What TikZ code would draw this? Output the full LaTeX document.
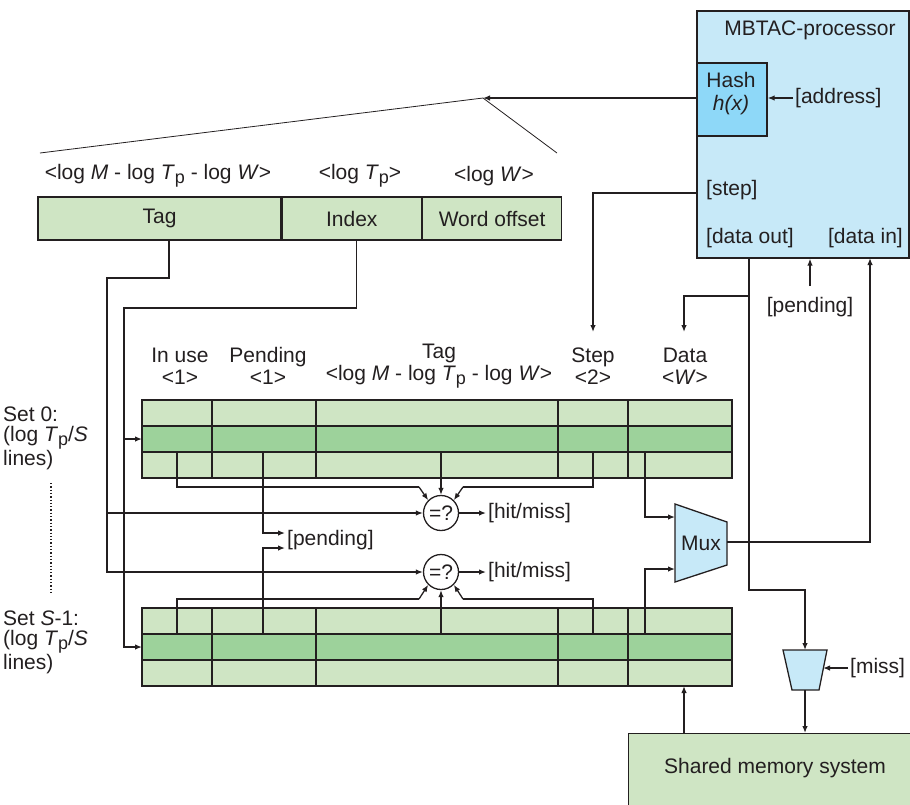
\documentclass[tikz,border=0pt]{standalone}
\usepackage{fontspec}
\setmainfont{Liberation Sans}
\usetikzlibrary{arrows.meta}
\definecolor{ink}{HTML}{231F20}
\definecolor{paleg}{HTML}{CFE5C4}
\definecolor{deepg}{HTML}{9DD29B}
\definecolor{procb}{HTML}{C7E9F8}
\definecolor{hashb}{HTML}{8ED8F8}
\newcommand{\Tp}{\textit{T}\raisebox{-0.35ex}{\fontsize{18}{18}\selectfont p}}
\tikzset{
  wire/.style={draw=ink, line width=1.3pt},
  arr/.style={wire, -{Latex[length=7pt,width=5.5pt]}},
  lab/.style={inner sep=2pt},
  field/.style={wire, fill=paleg, minimum height=43pt, inner sep=0pt},
  hdr/.style={align=center, font=\fontsize{21}{22}\selectfont},
  cmp/.style={circle, wire, fill=white, minimum size=35pt, inner sep=0pt},
}
\begin{document}
\begin{tikzpicture}[x=1pt, y=-1pt, font=\fontsize{21}{24}\selectfont, text=ink]
  \useasboundingbox (0,0) rectangle (910,804);
  % processor
  \node[wire, fill=procb, minimum width=212pt, minimum height=247pt, inner sep=0pt] (proc) at (803,134.5) {};
  \node (ptitle) at (810,30) {MBTAC-processor};
  \node[wire, fill=hashb, minimum width=70pt, minimum height=73pt, inner sep=0pt] (hash) at (732,99.5) {};
  \node[align=center, font=\fontsize{21}{23}\selectfont] (hashtxt) at (731,94) {Hash\\\textit{h(x)}};
  \node[lab, anchor=west] (addr) at (793,98) {[address]};
  \node[lab, anchor=west] (stp) at (704,190) {[step]};
  \node[lab, anchor=west] (dout) at (704,238) {[data out]};
  \node[lab, anchor=east] (din) at (905,238) {[data in]};
  \coordinate (stepout) at (697,193);
  \coordinate (doutp) at (749,258);
  \coordinate (dinp) at (870,258);
  \coordinate (fan) at (483,98);
  \coordinate (fl) at (40,153);
  \coordinate (fr) at (557,153);
  \draw[arr] (addr.west) -- (hash.east |- addr.west);
  \draw[arr] (hash.west |- fan) -- (fan);
  \draw[draw=ink, line width=0.8pt] (fl) -- (fan) -- (fr);
  % address fields
  \node[field, minimum width=243pt] (tag) at (159.5,218.5) {Tag};
  \node[field, minimum width=139pt, anchor=west] (index) at (tag.east) {Index};
  \node[field, minimum width=139pt, anchor=west] (offset) at (index.east) {Word offset};
  \node (tagw) at (158,176) {<log \textit{M} - log \Tp{} - log \textit{W}>};
  \node (indexw) at (360,176) {<log \Tp>};
  \node (offw) at (494,176) {<log \textit{W}>};
  % the two sets
  \foreach \top/\row/\nm in {400/452/u, 608/633/l} {
    \fill[paleg] (142,\top) rectangle (732,\top+78);
    \fill[deepg] (142,\top+26) rectangle (732,\top+52);
    \foreach \dy in {26,52} \draw[wire] (142,\top+\dy) -- (732,\top+\dy);
    \foreach \cx in {212,316,558,628} \draw[wire] (\cx,\top) -- (\cx,\top+78);
    \draw[wire] (142,\top) rectangle (732,\top+78);
    \foreach \cx/\cn in {177/use,263/pend,441/tag,593/step,645/data}
      \coordinate (\nm-\cn) at (\cx,\row);
  }
  \coordinate (row0) at (142,439);
  \coordinate (rowS) at (142,647);
  \node[hdr] (h-use) at (180,366) {In use\\<1>};
  \node[hdr] (h-pend) at (268,366) {Pending\\<1>};
  \node[hdr] (h-tag) at (439,366) {Tag\\<log \textit{M} - log \Tp{} - log \textit{W}>};
  \node[hdr] (h-step) at (593,366) {Step\\<2>};
  \node[hdr] (h-data) at (685,366) {Data\\<\textit{W}>};
  \node[lab, align=left, anchor=west, font=\fontsize{21}{20}\selectfont] (set0) at (1,438) {Set 0:\\(log \Tp/\textit{S}\\lines)};
  \node[lab, align=left, anchor=west, font=\fontsize{21}{20}\selectfont] (setS) at (1,642) {Set \textit{S}-1:\\(log \Tp/\textit{S}\\lines)};
  \draw[wire, dotted] (51,483) -- (51,594);
  % comparators
  \node[cmp] (cmp0) at (441,513) {=?};
  \node[cmp] (cmp1) at (441,572) {=?};
  \node[lab, anchor=west] (hm0) at (486,513) {[hit/miss]};
  \node[lab, anchor=west] (hm1) at (486,572) {[hit/miss]};
  \node[lab, anchor=west] (pend) at (285,540.5) {[pending]};
  \draw[arr] (cmp0) -- (hm0);
  \draw[arr] (cmp1) -- (hm1);
  \coordinate (u-usek) at (419,487);
  \coordinate (u-stepk) at (463,487);
  \coordinate (l-usek) at (419,599);
  \coordinate (l-stepk) at (463,599);
  % mux
  \draw[wire, fill=procb] (675,504) -- (727,522) -- (727,565) -- (675,582) -- cycle;
  \node (mux) at (701,543) {Mux};
  \coordinate (mux-a) at (675,517);
  \coordinate (mux-b) at (675,569);
  \coordinate (mux-o) at (727,542);
  % miss selector and memory
  \draw[wire, fill=procb] (783,650) -- (827,650) -- (819,690) -- (792,690) -- cycle;
  \coordinate (sel-in) at (805,650);
  \coordinate (sel-out) at (805,690);
  \coordinate (sel-ctl) at (823,668);
  \node[lab, anchor=west] (miss) at (848,668) {[miss]};
  \node[wire, fill=paleg, minimum width=282pt, minimum height=80pt, inner sep=0pt, anchor=north west] (mem) at (628,733) {};
  \node (memtxt) at (775,768) {Shared memory system};
  \node[lab] (pendp) at (810,307) {[pending]};
  % tag and index
  \draw[arr] ([xshift=9.5pt]tag.south) |- (107,278) |- (cmp1.west);
  \draw[arr] (cmp0.west -| 107,278) -- (cmp0.west);
  \draw[arr] ([xshift=4.5pt]index.south) |- (124,308) |- (rowS);
  \draw[arr] (row0 -| 124,308) -- (row0);
  % set 0 outputs
  \draw[wire] (u-use) |- (u-usek);
  \draw[arr] (u-usek) -- (cmp0.north west);
  \draw[arr] (u-tag) -- (cmp0.north);
  \draw[wire] (u-step) |- (u-stepk);
  \draw[arr] (u-stepk) -- (cmp0.north east);
  \draw[arr] (u-pend) |- ([yshift=7.5pt]pend.west);
  \draw[arr] (u-data) |- (mux-a);
  % set S-1 outputs
  \draw[wire] (l-use) |- (l-usek);
  \draw[arr] (l-usek) -- (cmp1.south west);
  \draw[arr] (l-tag) -- (cmp1.south);
  \draw[wire] (l-step) |- (l-stepk);
  \draw[arr] (l-stepk) -- (cmp1.south east);
  \draw[arr] (l-pend) |- ([yshift=-7.5pt]pend.west);
  \draw[arr] (l-data) |- (mux-b);
  % processor ports
  \draw[arr] (stepout) -| (593,332);
  \draw[arr] (doutp) |- (805,590) -- (sel-in);
  \draw[arr] (749,296) -| (684,332);
  \draw[arr] ([yshift=9pt]pendp.north) -- (pendp.north |- proc.south);
  \draw[arr] (mux-o) -| (dinp);
  \draw[arr] (miss.west) -- (sel-ctl);
  \draw[arr] (sel-out) -- (sel-out |- mem.north);
  \draw[arr] (684,733) -- (684,686);
\end{tikzpicture}
\end{document}
